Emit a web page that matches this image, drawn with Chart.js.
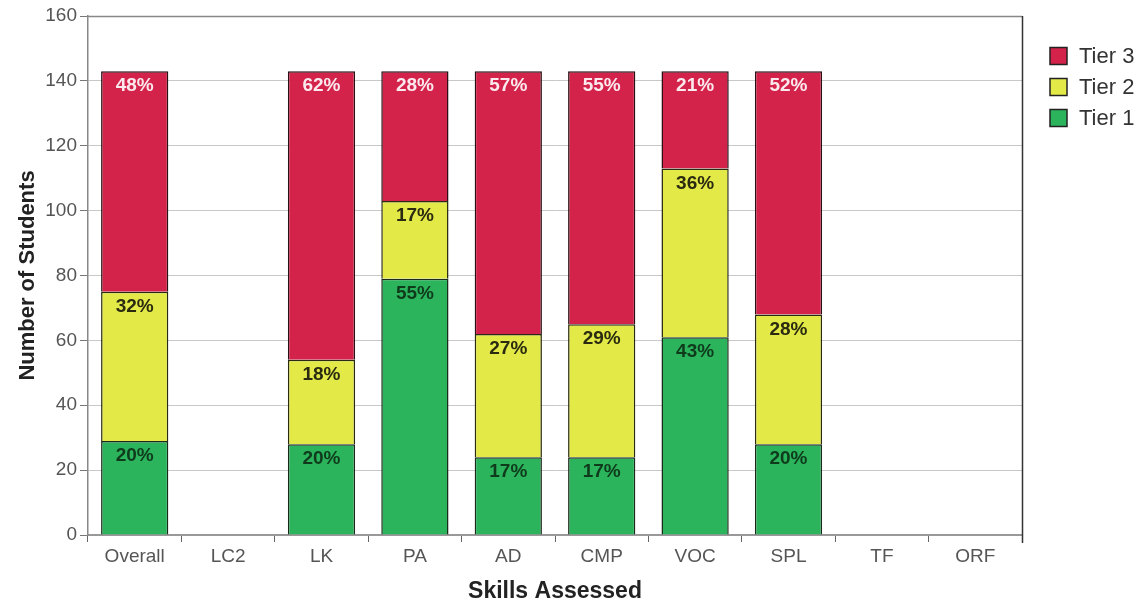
<!DOCTYPE html>
<html>
<head>
<meta charset="utf-8">
<script src="https://cdn.jsdelivr.net/npm/chart.js@4.4.1/dist/chart.umd.min.js"></script>
<style>
    html, body { margin: 0; padding: 0; background: #fff; }
    #wrap { width: 1138px; height: 605px; }
</style>
</head>
<body>
<div id="wrap"><canvas id="tiers-chart" width="1138" height="605"></canvas></div>
<script>
const skills = ['Overall', 'LC2', 'LK', 'PA', 'AD', 'CMP', 'VOC', 'SPL', 'TF', 'ORF'];

// number of students per tier (empty skills have no bar)
const tier1 = [29, null, 28, 79, 24, 24, 61, 28, null, null];
const tier2 = [46, null, 26, 24, 38, 41, 52, 40, null, null];
const tier3 = [68, null, 89, 40, 81, 78, 30, 75, null, null];

// percentages printed inside the segments
const tier1Pct = ['20%', '', '20%', '55%', '17%', '17%', '43%', '20%', '', ''];
const tier2Pct = ['32%', '', '18%', '17%', '27%', '29%', '36%', '28%', '', ''];
const tier3Pct = ['48%', '', '62%', '28%', '57%', '55%', '21%', '52%', '', ''];

const yTicks = [0, 20, 40, 60, 80, 100, 120, 140, 160];

const FONT = '"Liberation Sans", Arial, sans-serif';

const segmentLabels = {
    id: 'segmentLabels',
    afterDatasetsDraw(chart) {
        const ctx = chart.ctx;
        ctx.save();
        ctx.textAlign = 'center';
        ctx.textBaseline = 'middle';
        ctx.font = `bold 19px ${FONT}`;
        chart.data.datasets.forEach((ds, i) => {
            const meta = chart.getDatasetMeta(i);
            meta.data.forEach((bar, j) => {
                const text = ds.pctLabels[j];
                if (!text || ds.data[j] == null) return;
                ctx.fillStyle = ds.pctColor;
                const top = Math.min(bar.y, bar.base);
                ctx.fillText(text, bar.x, top + 15);
            });
        });
        ctx.restore();
    }
};

// legend on the right, Tier 3 first, drawn from the datasets
const sideLegend = {
    id: 'sideLegend',
    afterDraw(chart) {
        const ctx = chart.ctx;
        const x = chart.chartArea.right + 28;
        let y = 56;
        ctx.save();
        ctx.font = `22px ${FONT}`;
        ctx.textBaseline = 'middle';
        ctx.textAlign = 'left';
        chart.data.datasets.slice().reverse().forEach(ds => {
            ctx.fillStyle = ds.backgroundColor;
            ctx.fillRect(x, y - 8.5, 17, 17);
            ctx.strokeStyle = '#222';
            ctx.lineWidth = 1.5;
            ctx.strokeRect(x, y - 8.5, 17, 17);
            ctx.fillStyle = '#333';
            ctx.fillText(ds.label, x + 29, y + 1);
            y += 31;
        });
        ctx.restore();
    }
};

const plotFrame = {
    id: 'plotFrame',
    afterDraw(chart) {
        const { ctx, chartArea } = chart;
        ctx.save();
        ctx.strokeStyle = '#888';
        ctx.lineWidth = 1.5;
        ctx.beginPath();
        ctx.moveTo(chartArea.left, chartArea.top + 0.5);
        ctx.lineTo(chartArea.right, chartArea.top + 0.5);
        ctx.stroke();
        ctx.strokeStyle = '#333';
        ctx.beginPath();
        ctx.moveTo(chartArea.right + 0.5, chartArea.top);
        ctx.lineTo(chartArea.right + 0.5, chartArea.bottom + 8);
        ctx.stroke();
        ctx.restore();
    }
};

const ctx = document.getElementById('tiers-chart').getContext('2d');

new Chart(ctx, {
    type: 'bar',
    data: {
        labels: skills,
        datasets: [{
            label: 'Tier 1',
            data: tier1,
            pctLabels: tier1Pct,
            pctColor: '#0f3a1c',
            backgroundColor: '#2bb45c',
            borderColor: '#1a2a1a',
            borderWidth: 1.5
        }, {
            label: 'Tier 2',
            data: tier2,
            pctLabels: tier2Pct,
            pctColor: '#2a2a10',
            backgroundColor: '#e3ea48',
            borderColor: '#2a2a10',
            borderWidth: 1.5
        }, {
            label: 'Tier 3',
            data: tier3,
            pctLabels: tier3Pct,
            pctColor: '#fbe9ee',
            backgroundColor: '#d4234a',
            borderColor: '#2a1015',
            borderWidth: 1.5
        }]
    },
    options: {
        responsive: false,
        animation: false,
        devicePixelRatio: 1,
        layout: { padding: { top: 16, right: 116, left: 0, bottom: 0 } },
        datasets: {
            bar: { categoryPercentage: 1, barPercentage: 0.72 }
        },
        plugins: {
            legend: { display: false },
            tooltip: { enabled: false }
        },
        scales: {
            x: {
                stacked: true,
                offset: true,
                grid: {
                    offset: true,
                    drawOnChartArea: false,
                    drawTicks: true,
                    tickLength: 7,
                    color: '#666'
                },
                border: { color: '#999', width: 2 },
                ticks: {
                    color: '#555',
                    padding: 3,
                    font: { family: FONT, size: 19 }
                },
                title: {
                    display: true,
                    text: 'Skills Assessed',
                    color: '#222',
                    padding: { top: 6, bottom: 0 },
                    font: { family: FONT, size: 23, weight: 'bold' }
                },
                afterFit(scale) { scale.height = 70; }
            },
            y: {
                stacked: true,
                min: 0,
                max: 160,
                afterBuildTicks(scale) {
                    scale.ticks = yTicks.map(v => ({ value: v }));
                },
                grid: {
                    color: '#c8c8c8',
                    tickColor: '#777',
                    tickLength: 8
                },
                border: { color: '#888', width: 1.5 },
                ticks: {
                    color: '#555',
                    padding: 3,
                    font: { family: FONT, size: 19 }
                },
                title: {
                    display: true,
                    text: 'Number of Students',
                    color: '#222',
                    padding: { top: 15, bottom: 0 },
                    font: { family: FONT, size: 22, weight: 'bold' }
                },
                afterFit(scale) { scale.width = 88; }
            }
        }
    },
    plugins: [segmentLabels, sideLegend, plotFrame]
});
</script>
</body>
</html>
